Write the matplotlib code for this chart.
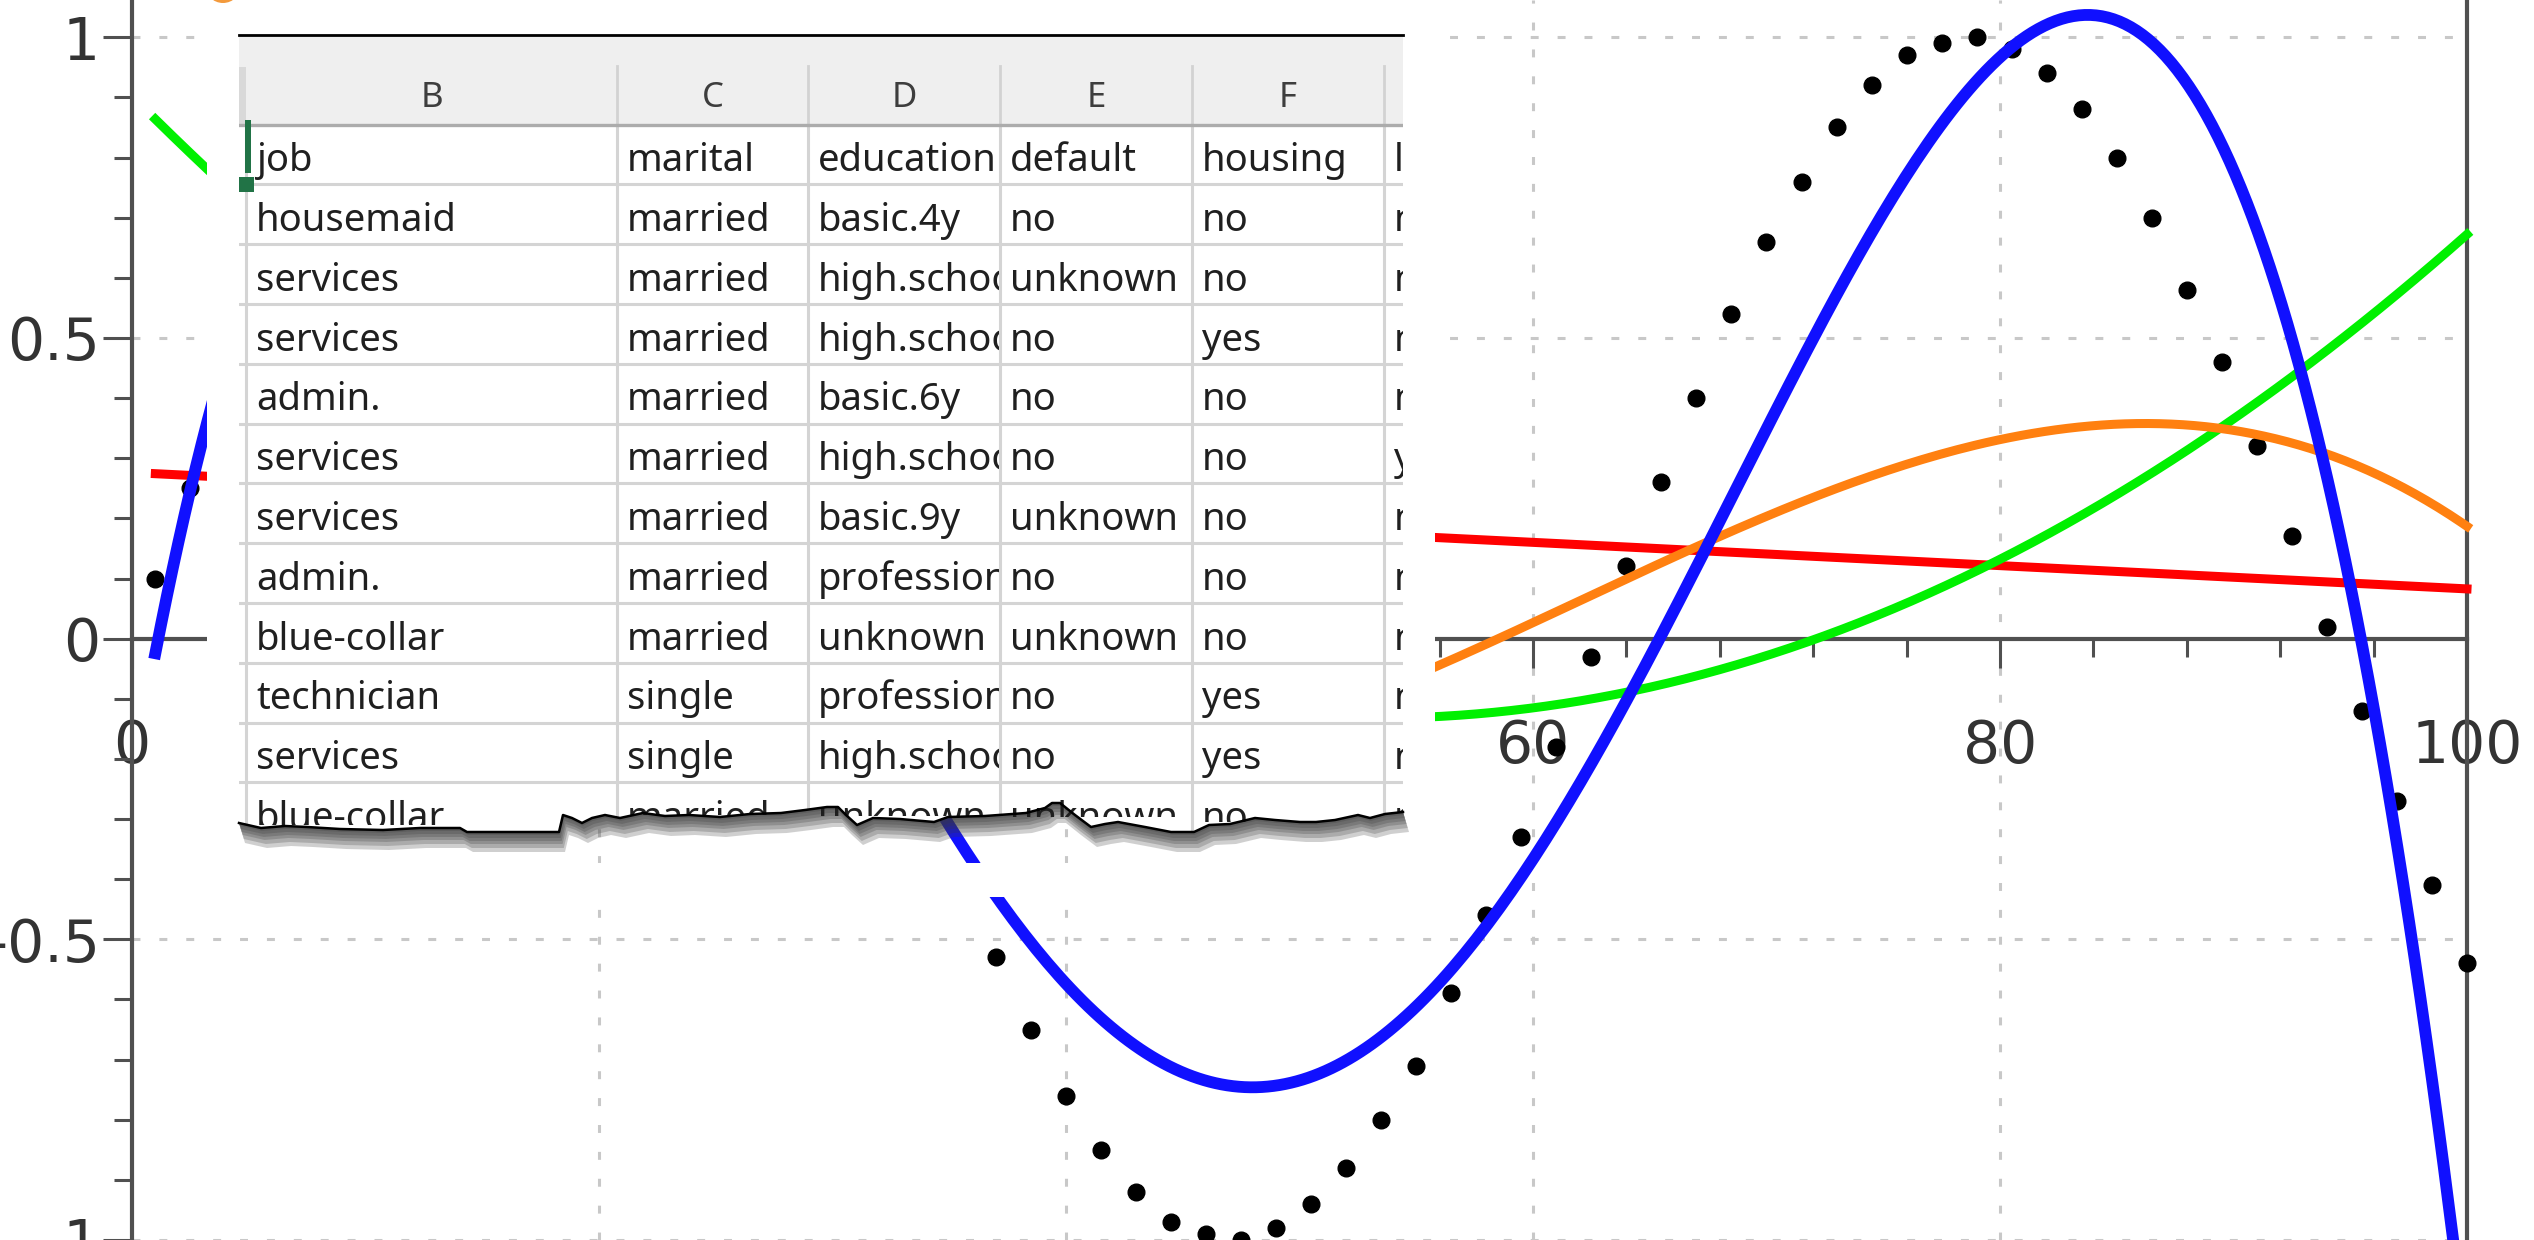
import numpy as np
import matplotlib.pyplot as plt
from matplotlib.patches import Polygon, Rectangle, Circle
from matplotlib.transforms import Bbox, TransformedBbox
from matplotlib.ticker import MultipleLocator, FixedLocator

plt.rcParams['axes.unicode_minus'] = False
plt.rcParams['font.family'] = ['DejaVu Sans']

# sampled points (black dots)
x_data = [1.0, 2.5, 4.0, 5.5, 7.0, 8.5, 10.0, 11.5, 13.0, 14.5, 16.0, 17.5, 19.0, 20.5,
          22.0, 23.5, 25.0, 26.5, 28.0, 29.5, 31.0, 32.5, 34.0, 35.5, 37.0, 38.5, 40.0,
          41.5, 43.0, 44.5, 46.0, 47.5, 49.0, 50.5, 52.0, 53.5, 55.0, 56.5, 58.0, 59.5,
          61.0, 62.5, 64.0, 65.5, 67.0, 68.5, 70.0, 71.5, 73.0, 74.5, 76.0, 77.5, 79.0,
          80.5, 82.0, 83.5, 85.0, 86.5, 88.0, 89.5, 91.0, 92.5, 94.0, 95.5, 97.0, 98.5, 100.0]
y_data = [0.10, 0.25, 0.39, 0.52, 0.64, 0.75, 0.84, 0.91, 0.96, 0.99, 1.00, 0.98, 0.95, 0.89,
          0.81, 0.71, 0.60, 0.47, 0.33, 0.19, 0.04, -0.11, -0.26, -0.40, -0.53, -0.65, -0.76,
          -0.85, -0.92, -0.97, -0.99, -1.00, -0.98, -0.94, -0.88, -0.80, -0.71, -0.59, -0.46,
          -0.33, -0.18, -0.03, 0.12, 0.26, 0.40, 0.54, 0.66, 0.76, 0.85, 0.92, 0.97, 0.99,
          1.00, 0.98, 0.94, 0.88, 0.80, 0.70, 0.58, 0.46, 0.32, 0.17, 0.02, -0.12, -0.27,
          -0.41, -0.54]

# polynomial fits drawn over the points
fit_degrees = [1, 2, 3, 4]
fit_colors = ['#ff0000', '#00f000', '#ff8010', '#1010ff']
fit_widths = [6.5, 6.5, 6.5, 8.5]

x_ticks = [0, 20, 40, 60, 80, 100]
x_tick_labels = ['0', '20', '40', '60', '80', '100']
x_minor = [4, 8, 12, 16, 24, 28, 32, 36, 44, 48, 52, 56, 64, 68, 72, 76, 84, 88, 92, 96]
y_ticks = [-1, -0.5, 0, 0.5, 1]
y_tick_labels = ['-1', '-0.5', '0', '0.5', '1']

# spreadsheet snippet pasted over the chart
col_letters = ['B', 'C', 'D', 'E', 'F', 'G']
sheet_rows = [
    ['job', 'marital', 'education', 'default', 'housing', 'loan'],
    ['housemaid', 'married', 'basic.4y', 'no', 'no', 'no'],
    ['services', 'married', 'high.school', 'unknown', 'no', 'no'],
    ['services', 'married', 'high.school', 'no', 'yes', 'no'],
    ['admin.', 'married', 'basic.6y', 'no', 'no', 'no'],
    ['services', 'married', 'high.school', 'no', 'no', 'yes'],
    ['services', 'married', 'basic.9y', 'unknown', 'no', 'no'],
    ['admin.', 'married', 'professional.course', 'no', 'no', 'no'],
    ['blue-collar', 'married', 'unknown', 'unknown', 'no', 'no'],
    ['technician', 'single', 'professional.course', 'no', 'yes', 'no'],
    ['services', 'single', 'high.school', 'no', 'yes', 'no'],
    ['blue-collar', 'married', 'unknown', 'unknown', 'no', 'no'],
]

W, H = 2534, 1240
fig = plt.figure(figsize=(W / 100, H / 100), dpi=100)
ax = fig.add_axes([0, 0, 1, 1])
ax.set_xlim(-5.653, 102.87)
ax.set_ylim(-0.964, 1.062)

ax.spines['left'].set_position(('data', 0))
ax.spines['bottom'].set_position(('data', 0))
ax.spines['right'].set_position(('data', 100))
ax.spines['bottom'].set_bounds(0, 100)
ax.spines['top'].set_visible(False)
for s in ['left', 'bottom', 'right']:
    ax.spines[s].set_color('#505050')
    ax.spines[s].set_linewidth(3)

ax.xaxis.set_ticks_position('bottom')
ax.yaxis.set_ticks_position('left')
ax.set_xticks(x_ticks, x_tick_labels)
ax.set_yticks(y_ticks, y_tick_labels)
ax.xaxis.set_minor_locator(FixedLocator(x_minor))
ax.yaxis.set_minor_locator(MultipleLocator(0.1))
ax.tick_params(which='major', direction='out', length=21, width=2.2, color='#505050',
               labelsize=42, labelcolor='#333333')
ax.tick_params(which='minor', direction='out', length=13, width=2.2, color='#505050')
ax.tick_params(axis='x', pad=36)
ax.tick_params(axis='y', pad=2)

# dotted grid, kept inside 0..100 horizontally
grid_kw = dict(color='#c8c8c8', lw=2.2, ls=(0, (2.6, 6.2)), zorder=0.5)
ylo, yhi = ax.get_ylim()
ax.vlines([v for v in x_ticks if 0 < v < 100], ylo, yhi, **grid_kw)
ax.hlines([v for v in y_ticks if v != 0], 0, 100, **grid_kw)

ax.plot(x_data, y_data, 'o', color='black', ms=12, zorder=2.8)
xs = np.linspace(min(x_data), max(x_data), 400)
for deg, col, lw in zip(fit_degrees, fit_colors, fit_widths):
    coef = np.polyfit(x_data, y_data, deg)
    ax.plot(xs, np.polyval(coef, xs), color=col, lw=lw, zorder=3)

# overlay in pixel coordinates
ov = fig.add_axes([0, 0, 1, 1], zorder=5)
ov.set_xlim(0, W)
ov.set_ylim(H, 0)
ov.axis('off')

edge = [(239, 823), (261, 828), (285, 826), (307, 827), (340, 829), (383, 830), (420, 828),
        (460, 828), (467, 832), (559, 832), (563, 815), (572, 818), (582, 823), (592, 818),
        (605, 815), (620, 818), (643, 813), (665, 816), (689, 815), (720, 817), (750, 814),
        (781, 813), (805, 810), (827, 807), (838, 807), (846, 815), (857, 825), (873, 818),
        (900, 819), (934, 822), (948, 817), (985, 816), (1026, 813), (1045, 808), (1052, 803),
        (1060, 803), (1075, 815), (1091, 827), (1105, 824), (1118, 822), (1145, 827),
        (1171, 832), (1194, 832), (1209, 825), (1230, 824), (1255, 818), (1275, 820),
        (1300, 822), (1316, 822), (1335, 820), (1358, 815), (1370, 818), (1385, 814), (1403, 812)]
edge_x = np.array([p[0] for p in edge])
edge_y = np.array([p[1] for p in edge])

cover = Polygon([(207, 0), (1435, 0), (1435, 812)] + edge[::-1] + [(207, 823)],
                closed=True, fc='white', ec='none', zorder=1)
ov.add_patch(cover)
ov.add_patch(Rectangle((570, 863), 540, 34, fc='white', ec='none', zorder=1))
ov.add_patch(Circle((223, -15), 18, fc='#f39a3c', ec='none', zorder=1))

for off in [3, 6, 9, 12, 16, 20]:
    sh = Polygon(edge + [(x + off * 0.3, y + off) for x, y in edge[::-1]],
                 closed=True, fc='#3a3a3a', ec='none', alpha=0.24, zorder=2)
    ov.add_patch(sh)

sheet = Polygon([(239, 33), (1403, 33)] + edge[::-1], closed=True, fc='white', ec='none', zorder=3)
ov.add_patch(sheet)

def clipped(artist):
    artist.set_clip_on(True)
    artist.set_clip_path(sheet)
    return artist

def cell_text(x, y, s, x0, x1, top, bot, **kw):
    # tiny rotation sends the glyphs through agg's rasterizer, which honours the clip box
    t = ov.text(x, y, s, va='baseline', rotation=0.01, rotation_mode='anchor',
                family='Noto Sans', clip_on=True, **kw)
    t.set_clip_box(TransformedBbox(Bbox([[x0, bot], [x1, top]]), ov.transData))
    return t

col_edges = [246, 617, 808, 1000, 1192, 1384, 1576]
head_bot = 124.5
row_h = 59.8

clipped(ov.add_patch(Rectangle((239, 35), 1164, head_bot - 35, fc='#efefef', ec='none', zorder=4)))
clipped(ov.add_patch(Rectangle((239, 67), 7, head_bot - 67, fc='#d9d9d9', ec='none', zorder=4)))
for cx in col_edges[1:]:
    clipped(ov.plot([cx, cx], [66, head_bot], color='#d2d2d2', lw=2, zorder=4)[0])
for k in range(1, len(sheet_rows) + 1):
    yy = head_bot + k * row_h
    clipped(ov.plot([239, 1403], [yy, yy], color='#d4d4d4', lw=2.2, zorder=4)[0])
for cx in col_edges:
    clipped(ov.plot([cx, cx], [head_bot, 900], color='#d4d4d4', lw=2.2, zorder=4)[0])
clipped(ov.plot([239, 1403], [head_bot, head_bot], color='#acacac', lw=2.4, zorder=5)[0])
ov.plot([239, 1403], [34.5, 34.5], color='black', lw=2, zorder=6)

for i, letter in enumerate(col_letters):
    cell_text((col_edges[i] + col_edges[i + 1]) / 2, 107, letter,
              col_edges[i], min(col_edges[i + 1], 1403), 35, head_bot,
              ha='center', fontsize=25, color='#3c3c3c', zorder=6)

for r, row in enumerate(sheet_rows):
    top = head_bot + r * row_h
    bot = top + row_h
    for i, val in enumerate(row):
        x0, x1 = col_edges[i], min(col_edges[i + 1] - 1, 1403)
        inside = (edge_x >= x0) & (edge_x <= x1)
        cut = min(bot, edge_y[inside].mean())
        cell_text(x0 + 10, bot - 13, val, x0, x1, top, cut,
                  ha='left', fontsize=27.5, color='#1e1e1e', zorder=6)

clipped(ov.add_patch(Rectangle((245, 120), 6, 53, fc='#217346', ec='none', zorder=7)))
clipped(ov.add_patch(Rectangle((239, 177), 15, 15, fc='#217346', ec='none', zorder=7)))

ov.plot(edge_x, edge_y, color='black', lw=1.8, zorder=8)

fig.savefig('out.png', dpi=100)
